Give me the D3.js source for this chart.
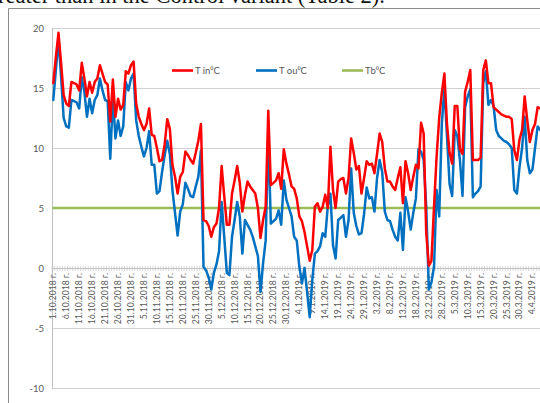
<!DOCTYPE html>
<html><head><meta charset="utf-8">
<script src="https://cdn.jsdelivr.net/npm/d3@7"></script>
<style>body{margin:0;background:#fff;overflow:hidden}svg{display:block}</style>
</head><body>
<svg id="c" width="540" height="403"></svg>
<script>
const tIn = [15.4,17.6,19.6,17.1,14.4,13.7,13.5,15.5,15.4,15.3,
14.8,17.1,15.8,14.3,15.5,14.6,15.5,15.8,16.9,16.2,
15.5,15.3,12.2,15.7,12.6,14.1,13.2,13.6,16.4,16.2,
16.9,17.2,13.7,12.6,12.0,11.5,12.0,13.3,11.1,11.0,
10.0,8.9,9.0,10.3,12.4,11.6,8.6,7.6,6.2,7.6,
8.0,9.7,9.4,9.0,8.7,9.6,10.6,12.0,4.0,3.9,
3.5,2.6,3.4,3.7,5.0,8.5,6.0,3.6,3.6,6.2,
7.3,8.5,7.1,4.7,6.1,7.2,6.8,6.5,6.2,5.0,
2.5,4.0,5.1,13.1,6.9,7.1,7.3,7.9,6.6,9.9,
8.7,7.8,6.8,6.6,5.8,4.3,3.9,3.0,1.8,0.6,
1.5,5.1,5.4,4.7,5.1,6.1,5.0,10.1,6.5,5.0,
7.2,7.4,7.5,6.2,7.5,10.8,9.6,8.2,8.5,6.2,
7.5,8.9,8.6,8.7,7.9,9.5,11.2,10.5,8.3,7.2,
7.2,6.8,6.5,7.5,8.4,5.4,8.9,7.9,6.5,7.6,
8.6,8.3,12.1,11.2,2.9,0.2,0.6,5.1,9.3,12.5,
14.6,16.2,12.0,9.6,8.7,13.5,13.5,9.9,9.5,14.7,
15.5,16.5,9.0,9.0,9.0,9.2,16.5,17.3,15.4,15.4,
13.4,13.2,13.0,12.8,12.7,12.6,12.6,12.4,9.8,9.0,
10.7,11.5,14.3,12.3,10.5,11.5,12.0,13.4,13.3,13.5];
const tOu = [14.0,16.5,19.1,16.0,12.5,11.8,11.7,14.0,13.9,13.8,
13.3,15.9,14.7,12.6,14.1,12.9,14.0,14.4,15.8,14.8,
14.0,13.9,9.1,14.3,10.8,12.3,11.0,11.8,15.5,14.8,
15.8,16.2,12.3,11.0,10.1,9.3,10.0,11.4,8.6,8.6,
6.2,6.4,8.0,9.4,10.6,9.5,6.5,4.6,2.7,4.7,
5.3,7.1,6.6,6.0,5.9,6.8,7.6,9.8,0.1,-0.2,
-0.8,-1.8,-0.4,0.3,1.4,5.5,2.6,-0.4,-0.6,2.6,
4.0,5.5,4.3,1.2,4.0,3.6,3.2,2.6,1.8,1.0,
-2.0,0.4,2.3,11.2,3.7,3.9,4.1,4.8,3.6,7.3,
5.7,5.0,4.3,2.6,2.3,0.1,-1.3,0.0,-2.0,-4.1,
-1.0,1.2,1.4,1.8,2.9,2.6,5.2,6.2,1.9,0.8,
4.0,4.2,4.4,2.6,4.0,8.3,4.6,3.5,2.8,2.9,
4.5,6.7,5.8,5.9,4.7,7.5,9.0,8.0,4.7,4.0,
3.9,3.2,2.6,2.3,4.6,1.5,5.9,4.7,3.2,4.6,
5.8,9.9,9.7,9.0,5.1,-1.8,-1.2,0.1,6.5,4.3,
12.0,15.0,11.0,7.0,6.0,11.5,11.0,9.0,6.0,13.4,
14.3,14.9,5.9,6.2,6.4,6.8,15.4,16.4,13.6,14.0,
13.5,11.5,11.0,10.8,10.6,10.5,10.3,10.0,6.5,6.2,
8.4,10.0,12.6,9.0,7.9,8.2,10.0,11.8,11.5,11.7];
const tBase = 5;
const yTicks = [20, 15, 10, 5, 0, -5, -10];
const seriesNames = ["T in\u2070C", "T ou\u2070C", "Tb\u2070C"];
const seriesColors = ["#FF0000", "#0070C0", "#9BBB59"];
const labelStep = 5;
const categories = tIn.map((_, i) => {
  const d = new Date(2018, 9, 1 + i);
  return d.getDate() + "." + (d.getMonth() + 1) + "." + d.getFullYear() + " \u0433.";
});
const tBline = categories.map(() => tBase);

const svg = d3.select("#c");
const FONT = "Lato, 'Liberation Sans', sans-serif";

// page text above chart (cut by the top edge, as in the reference)
svg.append("text").attr("x", 385).attr("y", 3).attr("text-anchor", "end")
  .attr("font-family", "'Liberation Serif', serif").attr("font-size", 22.5).attr("fill", "#111")
  .text("was greater than in the Control variant (Table 2).");

// chart frame
svg.append("path").attr("d", "M8.5,403 V8.5 H540").attr("fill", "none").attr("stroke", "#8c8c8c").attr("stroke-width", 1);

const bw = 2.59;
const left = 52;
const x = d3.scaleBand().domain(d3.range(categories.length)).range([left, left + bw * categories.length]).padding(0);
const y = d3.scaleLinear().domain([-10, 20]).range([388, 28]);
const cx = i => x(i) + x.bandwidth() / 2;

// gridlines
svg.append("g").selectAll("line").data(yTicks.filter(v => v !== 0)).join("line")
  .attr("x1", left).attr("x2", 540).attr("y1", d => Math.round(y(d)) + 0.5).attr("y2", d => Math.round(y(d)) + 0.5)
  .attr("stroke", "#d0d0d0").attr("stroke-width", 1);

// y axis
const yAxis = d3.axisLeft(y).tickValues(yTicks).tickSize(0).tickPadding(8).tickFormat(d => String(d));
const gy = svg.append("g").attr("transform", `translate(${left},0)`).call(yAxis);
gy.select(".domain").attr("stroke", "#bfbfbf");
gy.selectAll("text").attr("font-family", FONT).attr("font-size", 9.5).attr("fill", "#595959");

// x axis at 0
const xAxis = d3.axisBottom(x).tickSize(0).tickFormat("");
const gx = svg.append("g").attr("transform", `translate(0,${Math.round(y(0)) + 0.5})`).call(xAxis);
gx.select(".domain").attr("stroke", "#bfbfbf").attr("d", `M${left},0H540`);
// category tick marks
svg.append("g").selectAll("line").data(d3.range(categories.length + 1)).join("line")
  .attr("x1", i => left + i * bw).attr("x2", i => left + i * bw)
  .attr("y1", Math.round(y(0)) - 2).attr("y2", Math.round(y(0)) + 3)
  .attr("stroke", "#c8c8c8").attr("stroke-width", 0.7);
// category labels
svg.append("g").selectAll("text").data(categories.map((c, i) => ({c, i})).filter(d => d.i % labelStep === 0)).join("text")
  .attr("transform", d => `translate(${cx(d.i) + 3},${Math.round(y(0)) + 5}) rotate(-90)`)
  .attr("text-anchor", "end").attr("font-family", FONT).attr("font-size", 8.6).attr("fill", "#595959")
  .text(d => d.c);

// series lines
const line = d3.line().x((d, i) => cx(i)).y(d => y(d));
const allSeries = [tBline, tOu, tIn];
const colorsOrdered = [seriesColors[2], seriesColors[1], seriesColors[0]];
svg.append("g").selectAll("path").data(allSeries).join("path")
  .attr("d", d => line(d)).attr("fill", "none")
  .attr("stroke", (d, k) => colorsOrdered[k]).attr("stroke-width", 2.5).attr("stroke-linejoin", "round").attr("stroke-linecap", "round");

// legend
const legendX = [172, 256, 342];
const lg = svg.append("g").selectAll("g").data(seriesNames).join("g")
  .attr("transform", (d, i) => `translate(${legendX[i]},70)`);
lg.append("line").attr("x1", 0).attr("x2", 21).attr("y1", 0.5).attr("y2", 0.5)
  .attr("stroke", (d, i) => seriesColors[i]).attr("stroke-width", 2.6);
lg.append("text").attr("x", 23).attr("y", 3.5).attr("font-family", FONT).attr("font-size", 9.5).attr("fill", "#595959").text(d => d);
</script>
</body></html>
